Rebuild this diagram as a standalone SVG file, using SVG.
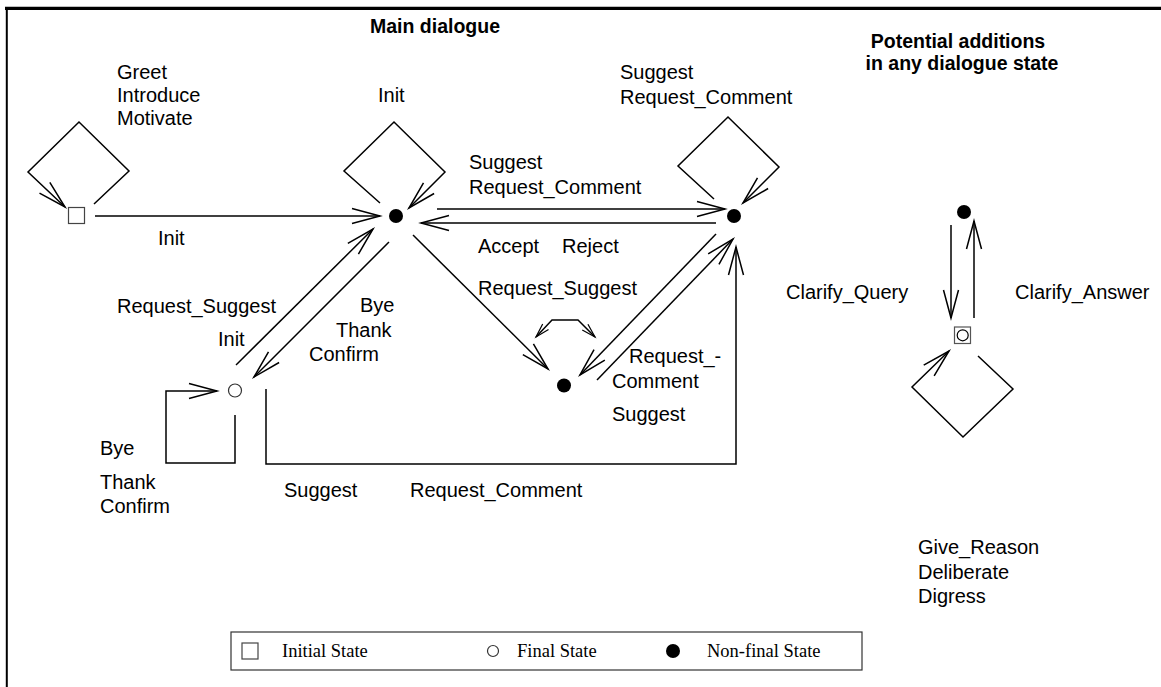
<svg xmlns="http://www.w3.org/2000/svg" width="1161" height="687" viewBox="0 0 1161 687">
<style>
.t{font-family:"Liberation Sans",Arial,sans-serif;font-size:20px;fill:#000}
.b{font-family:"Liberation Sans",Arial,sans-serif;font-size:19.5px;font-weight:bold;fill:#000;text-anchor:middle}
.l{font-family:"Liberation Serif","Times New Roman",serif;font-size:18.5px;fill:#000}
.c{fill:none;stroke:#000;stroke-width:1.5}
.a{marker-end:url(#ah)}
.s{marker-start:url(#sh);marker-end:url(#sh)}
</style>
<defs>
<marker id="ah" markerUnits="userSpaceOnUse" markerWidth="40" markerHeight="20" viewBox="-30 -10 32 20" refX="0" refY="0" orient="auto">
<path d="M-28,-7.5 L0,0 L-28,7.5" fill="none" stroke="#000" stroke-width="1.5"/>
</marker>
<marker id="sh" markerUnits="userSpaceOnUse" markerWidth="20" markerHeight="12" viewBox="-16 -6 18 12" refX="0" refY="0" orient="auto-start-reverse">
<path d="M-14,-4 L0,0 L-14,4" fill="none" stroke="#000" stroke-width="1.2"/>
</marker>
</defs>
<rect width="1161" height="687" fill="#fff"/>
<g id="frame">
<line x1="5" y1="8.3" x2="1161" y2="8.3" stroke="#000" stroke-width="3.3"/>
<line x1="6.8" y1="7" x2="6.8" y2="687" stroke="#000" stroke-width="2"/>
</g>
<g id="titles">
<text class="b" x="435" y="33">Main dialogue</text>
<text class="b" x="958" y="48">Potential additions</text>
<text class="b" x="962" y="70">in any dialogue state</text>
</g>
<g id="connectors">
<path class="c a" d="M94,204 L129,171 L79,122 L28,172 L65,207"/>
<path class="c a" d="M380,203 L344,171 L394,122 L445,172 L409,208"/>
<path class="c a" d="M714,199 L678,166 L728,117 L779,167 L743,203"/>
<path class="c a" d="M978,356 L1013,389 L963,437 L912,387 L949,351"/>
<path class="c s" d="M536,337 L552,320 L578,320 L595,337" stroke-width="1.2"/>
<path class="c a" d="M235,415 L235,463 L166,463 L166,391 L217,391"/>
<path class="c a" d="M95,216 L380,216"/>
<path class="c a" d="M437,209 L725,209"/>
<path class="c a" d="M716,223 L421,223"/>
<path class="c a" d="M413,235 L548,369"/>
<path class="c a" d="M716,234 L580,375"/>
<path class="c a" d="M597,380 L733,239"/>
<path class="c a" d="M266,389 L266,464 L736,464 L736,247"/>
<path class="c a" d="M236,365 L373,229"/>
<path class="c a" d="M389,242 L254,377"/>
<path class="c a" d="M951,225 L951,318"/>
<path class="c a" d="M974,318 L974,221"/>
</g>
<g id="node-initial">
<rect x="68.5" y="207.5" width="16" height="16" fill="#fff" stroke="#444" stroke-width="1.2"/>
</g>
<g id="node-init">
<circle cx="396" cy="216" r="7" fill="#000"/>
</g>
<g id="node-suggest">
<circle cx="734" cy="216" r="7" fill="#000"/>
</g>
<g id="node-request">
<circle cx="564" cy="385.5" r="7" fill="#000"/>
</g>
<g id="node-final">
<circle cx="235" cy="390.5" r="6.5" fill="#fff" stroke="#333" stroke-width="1.2"/>
</g>
<g id="node-any">
<circle cx="964" cy="212" r="7" fill="#000"/>
</g>
<g id="node-sub">
<rect x="954.5" y="327" width="16" height="16.5" fill="#fff" stroke="#555" stroke-width="1.2"/>
<circle cx="962.7" cy="335.3" r="5.5" fill="#fff" stroke="#000" stroke-width="1.2"/>
</g>
<g id="labels">
<text class="t" x="117" y="79">Greet</text>
<text class="t" x="117" y="102">Introduce</text>
<text class="t" x="117" y="125">Motivate</text>
<text class="t" x="158" y="245">Init</text>
<text class="t" x="378" y="102">Init</text>
<text class="t" x="620" y="79">Suggest</text>
<text class="t" x="620" y="104">Request_Comment</text>
<text class="t" x="469" y="169">Suggest</text>
<text class="t" x="469" y="194">Request_Comment</text>
<text class="t" x="478" y="253">Accept</text>
<text class="t" x="562" y="253">Reject</text>
<text class="t" x="478" y="295">Request_Suggest</text>
<text class="t" x="117" y="313">Request_Suggest</text>
<text class="t" x="218" y="346">Init</text>
<text class="t" x="360" y="312">Bye</text>
<text class="t" x="336" y="337">Thank</text>
<text class="t" x="309" y="361">Confirm</text>
<text class="t" x="100" y="455">Bye</text>
<text class="t" x="100" y="489">Thank</text>
<text class="t" x="100" y="513">Confirm</text>
<text class="t" x="284" y="497">Suggest</text>
<text class="t" x="410" y="497">Request_Comment</text>
<text class="t" x="629" y="363">Request_-</text>
<text class="t" x="612" y="388">Comment</text>
<text class="t" x="612" y="421">Suggest</text>
<text class="t" x="786" y="299">Clarify_Query</text>
<text class="t" x="1015" y="299">Clarify_Answer</text>
<text class="t" x="918" y="554">Give_Reason</text>
<text class="t" x="918" y="579">Deliberate</text>
<text class="t" x="918" y="603">Digress</text>
</g>
<g id="legend">
<rect x="231" y="632" width="631" height="38" fill="none" stroke="#333" stroke-width="1.2"/>
<rect x="242" y="643" width="16" height="16" fill="#fff" stroke="#444" stroke-width="1.2"/>
<text class="l" x="282" y="657">Initial State</text>
<circle cx="493" cy="651" r="5.5" fill="#fff" stroke="#333" stroke-width="1.2"/>
<text class="l" x="517" y="657">Final State</text>
<circle cx="673" cy="651" r="7" fill="#000"/>
<text class="l" x="707" y="657">Non-final State</text>
</g>
</svg>
